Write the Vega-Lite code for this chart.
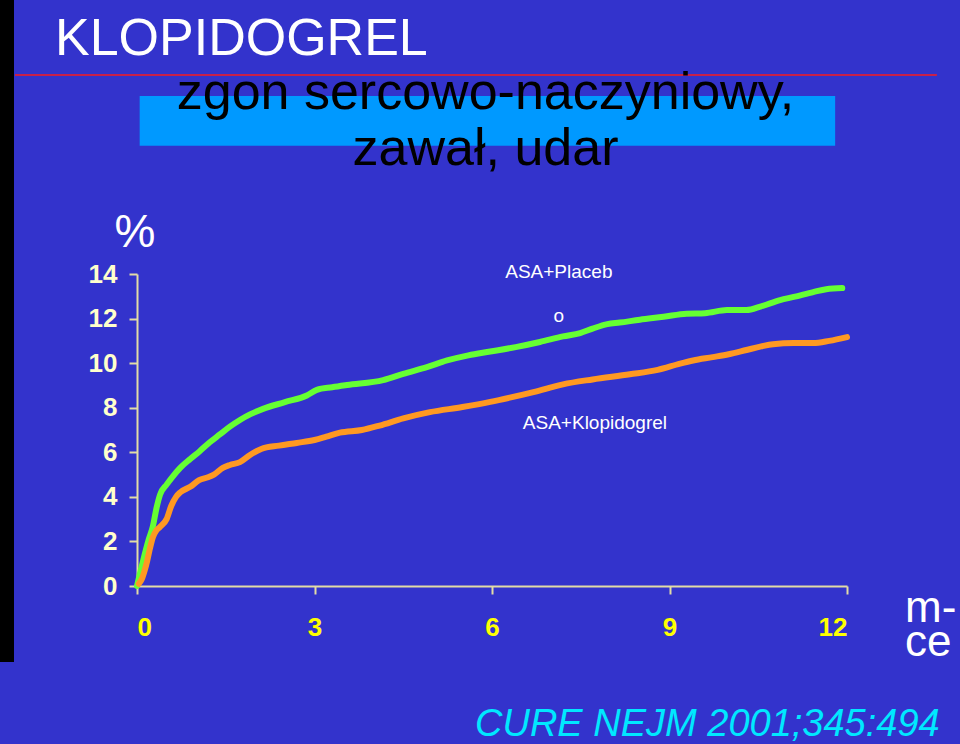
{
  "$schema": "https://vega.github.io/schema/vega-lite/v6.json",
  "width": 710,
  "height": 312,
  "autosize": {"type": "none"},
  "padding": {"left": 137, "top": 274, "right": 113, "bottom": 158},
  "background": "#3333cc",
  "config": {"view": {"stroke": null}, "font": "Liberation Sans"},
  "datasets": {
    "curves": [
      {"group": "ASA+Placebo", "m": 0, "v": 0},
      {"group": "ASA+Placebo", "m": 0.1, "v": 1.1},
      {"group": "ASA+Placebo", "m": 0.2, "v": 2.1},
      {"group": "ASA+Placebo", "m": 0.27, "v": 2.7},
      {"group": "ASA+Placebo", "m": 0.33, "v": 3.5},
      {"group": "ASA+Placebo", "m": 0.39, "v": 4.1},
      {"group": "ASA+Placebo", "m": 0.5, "v": 4.55},
      {"group": "ASA+Placebo", "m": 0.6, "v": 4.9},
      {"group": "ASA+Placebo", "m": 0.73, "v": 5.3},
      {"group": "ASA+Placebo", "m": 0.9, "v": 5.7},
      {"group": "ASA+Placebo", "m": 1.06, "v": 6.05},
      {"group": "ASA+Placebo", "m": 1.23, "v": 6.45},
      {"group": "ASA+Placebo", "m": 1.4, "v": 6.8},
      {"group": "ASA+Placebo", "m": 1.57, "v": 7.15},
      {"group": "ASA+Placebo", "m": 1.74, "v": 7.45},
      {"group": "ASA+Placebo", "m": 1.91, "v": 7.7},
      {"group": "ASA+Placebo", "m": 2.13, "v": 7.95},
      {"group": "ASA+Placebo", "m": 2.5, "v": 8.25},
      {"group": "ASA+Placebo", "m": 2.87, "v": 8.55},
      {"group": "ASA+Placebo", "m": 3.04, "v": 8.8},
      {"group": "ASA+Placebo", "m": 3.3, "v": 8.92},
      {"group": "ASA+Placebo", "m": 3.55, "v": 9.02},
      {"group": "ASA+Placebo", "m": 4.16, "v": 9.24},
      {"group": "ASA+Placebo", "m": 4.5, "v": 9.52},
      {"group": "ASA+Placebo", "m": 4.9, "v": 9.82},
      {"group": "ASA+Placebo", "m": 5.24, "v": 10.12},
      {"group": "ASA+Placebo", "m": 5.6, "v": 10.35},
      {"group": "ASA+Placebo", "m": 5.97, "v": 10.52},
      {"group": "ASA+Placebo", "m": 6.4, "v": 10.72},
      {"group": "ASA+Placebo", "m": 6.81, "v": 10.95},
      {"group": "ASA+Placebo", "m": 7.2, "v": 11.2},
      {"group": "ASA+Placebo", "m": 7.49, "v": 11.35},
      {"group": "ASA+Placebo", "m": 7.7, "v": 11.55},
      {"group": "ASA+Placebo", "m": 7.95, "v": 11.75},
      {"group": "ASA+Placebo", "m": 8.16, "v": 11.82},
      {"group": "ASA+Placebo", "m": 8.5, "v": 11.95},
      {"group": "ASA+Placebo", "m": 8.9, "v": 12.08},
      {"group": "ASA+Placebo", "m": 9.29, "v": 12.22},
      {"group": "ASA+Placebo", "m": 9.6, "v": 12.24},
      {"group": "ASA+Placebo", "m": 9.97, "v": 12.38},
      {"group": "ASA+Placebo", "m": 10.3, "v": 12.38},
      {"group": "ASA+Placebo", "m": 10.55, "v": 12.55},
      {"group": "ASA+Placebo", "m": 10.87, "v": 12.83},
      {"group": "ASA+Placebo", "m": 11.1, "v": 12.97},
      {"group": "ASA+Placebo", "m": 11.43, "v": 13.19},
      {"group": "ASA+Placebo", "m": 11.65, "v": 13.32},
      {"group": "ASA+Placebo", "m": 11.92, "v": 13.37},
      {"group": "ASA+Klopidogrel", "m": 0.03, "v": 0.1},
      {"group": "ASA+Klopidogrel", "m": 0.08, "v": 0.3},
      {"group": "ASA+Klopidogrel", "m": 0.13, "v": 0.7},
      {"group": "ASA+Klopidogrel", "m": 0.17, "v": 1.1},
      {"group": "ASA+Klopidogrel", "m": 0.22, "v": 1.7},
      {"group": "ASA+Klopidogrel", "m": 0.27, "v": 2.2},
      {"group": "ASA+Klopidogrel", "m": 0.33, "v": 2.5},
      {"group": "ASA+Klopidogrel", "m": 0.39, "v": 2.65},
      {"group": "ASA+Klopidogrel", "m": 0.5, "v": 3.0},
      {"group": "ASA+Klopidogrel", "m": 0.58, "v": 3.6},
      {"group": "ASA+Klopidogrel", "m": 0.66, "v": 4.0},
      {"group": "ASA+Klopidogrel", "m": 0.73, "v": 4.2},
      {"group": "ASA+Klopidogrel", "m": 0.9, "v": 4.45},
      {"group": "ASA+Klopidogrel", "m": 1.05, "v": 4.75},
      {"group": "ASA+Klopidogrel", "m": 1.2, "v": 4.88},
      {"group": "ASA+Klopidogrel", "m": 1.3, "v": 5.0},
      {"group": "ASA+Klopidogrel", "m": 1.45, "v": 5.3},
      {"group": "ASA+Klopidogrel", "m": 1.57, "v": 5.43},
      {"group": "ASA+Klopidogrel", "m": 1.74, "v": 5.56},
      {"group": "ASA+Klopidogrel", "m": 1.91, "v": 5.88},
      {"group": "ASA+Klopidogrel", "m": 2.1, "v": 6.15},
      {"group": "ASA+Klopidogrel", "m": 2.4, "v": 6.3},
      {"group": "ASA+Klopidogrel", "m": 2.7, "v": 6.42},
      {"group": "ASA+Klopidogrel", "m": 3.0, "v": 6.55},
      {"group": "ASA+Klopidogrel", "m": 3.2, "v": 6.7},
      {"group": "ASA+Klopidogrel", "m": 3.43, "v": 6.88},
      {"group": "ASA+Klopidogrel", "m": 3.8, "v": 7.0},
      {"group": "ASA+Klopidogrel", "m": 4.1, "v": 7.2},
      {"group": "ASA+Klopidogrel", "m": 4.5, "v": 7.52},
      {"group": "ASA+Klopidogrel", "m": 4.95, "v": 7.8},
      {"group": "ASA+Klopidogrel", "m": 5.5, "v": 8.03},
      {"group": "ASA+Klopidogrel", "m": 5.97, "v": 8.26},
      {"group": "ASA+Klopidogrel", "m": 6.3, "v": 8.45},
      {"group": "ASA+Klopidogrel", "m": 6.7, "v": 8.7},
      {"group": "ASA+Klopidogrel", "m": 7.2, "v": 9.05},
      {"group": "ASA+Klopidogrel", "m": 7.7, "v": 9.27},
      {"group": "ASA+Klopidogrel", "m": 8.33, "v": 9.5},
      {"group": "ASA+Klopidogrel", "m": 8.8, "v": 9.7},
      {"group": "ASA+Klopidogrel", "m": 9.18, "v": 9.98},
      {"group": "ASA+Klopidogrel", "m": 9.4, "v": 10.12},
      {"group": "ASA+Klopidogrel", "m": 9.73, "v": 10.27},
      {"group": "ASA+Klopidogrel", "m": 10.0, "v": 10.4},
      {"group": "ASA+Klopidogrel", "m": 10.3, "v": 10.59},
      {"group": "ASA+Klopidogrel", "m": 10.55, "v": 10.75},
      {"group": "ASA+Klopidogrel", "m": 10.75, "v": 10.85},
      {"group": "ASA+Klopidogrel", "m": 11.1, "v": 10.9},
      {"group": "ASA+Klopidogrel", "m": 11.43, "v": 10.9},
      {"group": "ASA+Klopidogrel", "m": 11.7, "v": 11.0},
      {"group": "ASA+Klopidogrel", "m": 12.0, "v": 11.17}
    ],
    "strip": [{"m": -2.3155, "m2": -2.079, "v": 26.3, "v2": -3.41}],
    "box": [{"m": 0.045, "m2": 11.8, "v": 21.99, "v2": 19.76}],
    "rule": [{"m": -2.062, "m2": 13.52, "v": 22.93}],
    "title": [{"m": -1.386, "v": 23.83, "label": "KLOPIDOGREL"}],
    "subtitle": [
      {"m": 5.89, "v": 21.4, "label": "zgon sercowo-naczyniowy,"},
      {"m": 5.89, "v": 18.87, "label": "zawał, udar"}
    ],
    "percent": [{"m": -0.38, "v": 15.2, "label": "%"}],
    "series": [
      {"m": 7.13, "v": 13.8, "label": "ASA+Placeb"},
      {"m": 7.13, "v": 11.83, "label": "o"},
      {"m": 7.74, "v": 7.05, "label": "ASA+Klopidogrel"}
    ],
    "unit": [
      {"m": 12.98, "v": -1.62, "label": "m-"},
      {"m": 12.98, "v": -3.12, "label": "ce"}
    ],
    "source": [{"m": 5.713, "v": -6.73, "label": "CURE NEJM 2001;345:494"}]
  },
  "layer": [
    {
      "data": {"name": "strip"},
      "mark": {"type": "rect", "color": "#000000"},
      "encoding": {
        "x": {"field": "m", "type": "quantitative"},
        "x2": {"field": "m2"},
        "y": {"field": "v", "type": "quantitative"},
        "y2": {"field": "v2"}
      }
    },
    {
      "data": {"name": "box"},
      "mark": {"type": "rect", "color": "#0099ff"},
      "encoding": {
        "x": {"field": "m", "type": "quantitative"},
        "x2": {"field": "m2"},
        "y": {"field": "v", "type": "quantitative"},
        "y2": {"field": "v2"}
      }
    },
    {
      "data": {"name": "rule"},
      "mark": {"type": "rule", "color": "#c8204a", "strokeWidth": 2},
      "encoding": {
        "x": {"field": "m", "type": "quantitative"},
        "x2": {"field": "m2"},
        "y": {"field": "v", "type": "quantitative"}
      }
    },
    {
      "data": {"name": "title"},
      "mark": {"type": "text", "align": "left", "baseline": "alphabetic", "fontSize": 52, "color": "#ffffff"},
      "encoding": {
        "x": {"field": "m", "type": "quantitative"},
        "y": {"field": "v", "type": "quantitative"},
        "text": {"field": "label"}
      }
    },
    {
      "data": {"name": "subtitle"},
      "mark": {"type": "text", "align": "center", "baseline": "alphabetic", "fontSize": 52, "color": "#000000"},
      "encoding": {
        "x": {"field": "m", "type": "quantitative"},
        "y": {"field": "v", "type": "quantitative"},
        "text": {"field": "label"}
      }
    },
    {
      "data": {"name": "percent"},
      "mark": {"type": "text", "align": "left", "baseline": "alphabetic", "fontSize": 46, "color": "#ffffff"},
      "encoding": {
        "x": {"field": "m", "type": "quantitative"},
        "y": {"field": "v", "type": "quantitative"},
        "text": {"field": "label"}
      }
    },
    {
      "data": {"name": "series"},
      "mark": {"type": "text", "align": "center", "baseline": "alphabetic", "fontSize": 19, "color": "#ffffff"},
      "encoding": {
        "x": {"field": "m", "type": "quantitative"},
        "y": {"field": "v", "type": "quantitative"},
        "text": {"field": "label"}
      }
    },
    {
      "data": {"name": "unit"},
      "mark": {"type": "text", "align": "left", "baseline": "alphabetic", "fontSize": 44, "color": "#ffffff"},
      "encoding": {
        "x": {"field": "m", "type": "quantitative"},
        "y": {"field": "v", "type": "quantitative"},
        "text": {"field": "label"}
      }
    },
    {
      "data": {"name": "source"},
      "mark": {"type": "text", "align": "left", "baseline": "alphabetic", "fontSize": 38, "fontStyle": "italic", "color": "#00e8ff"},
      "encoding": {
        "x": {"field": "m", "type": "quantitative"},
        "y": {"field": "v", "type": "quantitative"},
        "text": {"field": "label"}
      }
    },
    {
      "data": {"name": "curves"},
      "mark": {"type": "line", "strokeWidth": 6, "interpolate": "monotone", "strokeCap": "round", "strokeJoin": "round"},
      "encoding": {
        "x": {
          "field": "m", "type": "quantitative",
          "scale": {"domain": [0, 12], "nice": false, "zero": false},
          "axis": {
            "title": null, "values": [0, 3, 6, 9, 12], "format": "d", "grid": false,
            "domainColor": "#e2dca6", "domainWidth": 2, "tickColor": "#e2dca6", "tickWidth": 2, "tickSize": 8,
            "labelColor": "#ffff00", "labelFontSize": 26, "labelFontWeight": "bold", "labelPadding": 20,
            "labelFont": "Liberation Sans"
          }
        },
        "y": {
          "field": "v", "type": "quantitative",
          "scale": {"domain": [0, 14], "nice": false, "zero": false},
          "axis": {
            "title": null, "values": [0, 2, 4, 6, 8, 10, 12, 14], "format": "d", "grid": false,
            "domainColor": "#e2dca6", "domainWidth": 2, "tickColor": "#e2dca6", "tickWidth": 2, "tickSize": 8,
            "labelColor": "#ffffcc", "labelFontSize": 26, "labelFontWeight": "bold", "labelPadding": 12,
            "labelFont": "Liberation Sans"
          }
        },
        "color": {
          "field": "group", "type": "nominal",
          "scale": {"domain": ["ASA+Placebo", "ASA+Klopidogrel"], "range": ["#66ff33", "#ff9922"]},
          "legend": null
        },
        "order": {"field": "m", "type": "quantitative"}
      }
    }
  ]
}
